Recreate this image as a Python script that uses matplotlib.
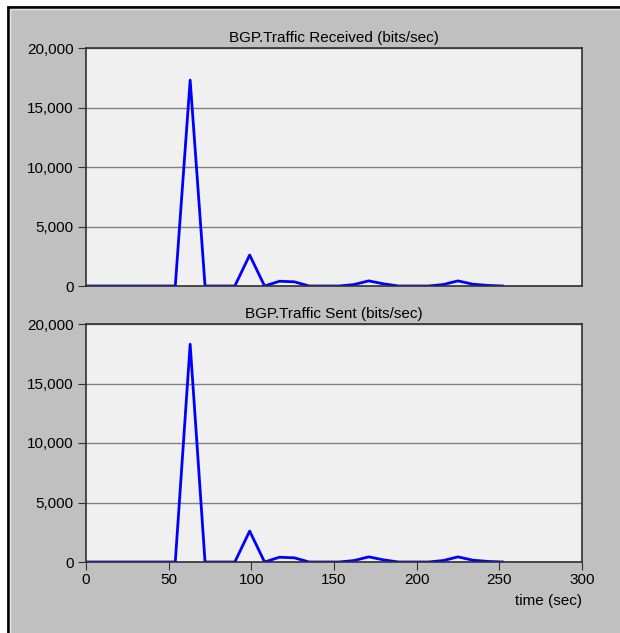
import matplotlib
matplotlib.use("Agg")
from matplotlib import pyplot as plt
from matplotlib.patches import Rectangle
from matplotlib.ticker import FuncFormatter

# sample times (sec), one sample every 9 s
time = [0, 9, 18, 27, 36, 45, 54, 63, 72, 81, 90, 99, 108, 117, 126,
        135, 144, 153, 162, 171, 180, 189, 198, 207, 216, 225, 234, 243, 252]

received = [0, 0, 0, 0, 0, 0, 0, 17300, 0, 0, 0, 2600, 0, 400, 350,
            0, 0, 0, 120, 430, 180, 0, 0, 0, 120, 430, 150, 50, 0]

sent = [0, 0, 0, 0, 0, 0, 0, 18300, 0, 0, 0, 2600, 0, 400, 350,
        0, 0, 0, 120, 430, 180, 0, 0, 0, 120, 430, 150, 50, 0]

titles = ["BGP.Traffic Received (bits/sec)", "BGP.Traffic Sent (bits/sec)"]

W, H = 620, 633
plt.rcParams['font.family'] = ['Liberation Sans', 'DejaVu Sans']
fig = plt.figure(figsize=(W / 100, H / 100), dpi=100, facecolor="white")

# grey panel with black frame on top/left (runs off the right and bottom)
fig.patches.append(Rectangle((8 / W, -0.1), 2, 1.1 - 7 / H, transform=fig.transFigure,
                             facecolor="#c0c0c0", edgecolor="black", linewidth=2, zorder=-2))
fig.patches.append(Rectangle((10 / W, -0.1), 2, 1.1 - 9.5 / H, transform=fig.transFigure,
                             facecolor="none", edgecolor="#e4e4e4", linewidth=1, zorder=-1))


def fmt(v, pos):
    return "{:,}".format(int(v))


def panel(bottom_px, values, title, show_x):
    ax = fig.add_axes([86 / W, (H - bottom_px) / H, 496 / W, 238 / H])
    ax.set_facecolor("#f0f0f0")
    ax.plot(time, values, color="#0000ff", linewidth=2)
    ax.set_xlim(0, 300)
    ax.set_ylim(0, 20000)
    ax.set_yticks([0, 5000, 10000, 15000, 20000])
    ax.yaxis.set_major_formatter(FuncFormatter(fmt))
    ax.grid(axis="y", color="#808080", linewidth=1)
    ax.set_axisbelow(True)
    for s in ax.spines.values():
        s.set_color("#303030")
        s.set_linewidth(1.2)
    ax.tick_params(axis="y", length=6, color="#303030", labelsize=11, pad=3)
    if show_x:
        ax.set_xticks([0, 50, 100, 150, 200, 250, 300])
        ax.tick_params(axis="x", length=6, color="#303030", labelsize=11, pad=2)
    else:
        ax.set_xticks([])
    ax.set_title(title, fontsize=11, pad=4)
    return ax


panel(286, received, titles[0], False)
ax2 = panel(562, sent, titles[1], True)
ax2.set_xlabel("time (sec)", fontsize=11, loc="right", labelpad=5)

plt.savefig("out.png", dpi=100, facecolor=fig.get_facecolor())
